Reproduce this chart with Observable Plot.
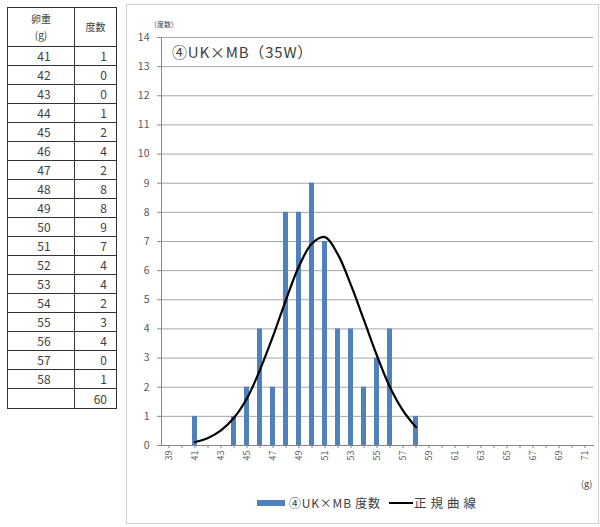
<!DOCTYPE html>
<html><head><meta charset="utf-8">
<script src="https://cdn.jsdelivr.net/npm/d3@7"></script>
<script src="https://cdn.jsdelivr.net/npm/@observablehq/plot@0.6"></script>
<style>
body{margin:0;background:#fff;font-family:"Noto Sans CJK JP","Noto Sans",sans-serif;color:#404040;}
#wrap{position:relative;width:600px;height:527px;overflow:hidden;background:#fff;}
#tbl{position:absolute;left:7px;top:7px;border-collapse:collapse;font-size:12px;color:#404040;}
#tbl td{border:1px solid #333;padding:0;line-height:1;}
#tbl td.w{width:67px;text-align:center;padding-left:6px;box-sizing:border-box;}
#tbl td.c{width:42px;text-align:right;padding-right:9px;box-sizing:border-box;}
#tbl tr.h td{height:39px;font-size:10px;line-height:16px;}
#tbl tr.r td{height:19px;}
#box{position:absolute;left:126px;top:4px;width:473px;height:520px;box-sizing:border-box;border:1.5px solid #d0d0d0;}
#chart{position:absolute;left:127px;top:5px;}
.ov{position:absolute;white-space:nowrap;color:#404040;}
</style></head><body><div id="wrap">
<table id="tbl"></table>
<div id="box"></div>
<div id="chart"></div>
<div class="ov" id="ylab" style="left:150px;top:19px;font-size:7px;line-height:10px;">（度数）</div>
<div class="ov" id="title" style="left:172px;top:42px;font-size:15px;line-height:20px;letter-spacing:0.8px;">④UK×MB（35W）</div>
<div class="ov" id="xunit" style="left:581px;top:478px;font-size:9px;line-height:12px;">(g)</div>
<div class="ov" id="legend" style="left:257px;top:494px;font-size:12px;line-height:18px;display:flex;align-items:center;">
  <span style="display:inline-block;width:28px;height:6px;background:#4F81BD;margin-right:4px;"></span>
  <span id="lg1" style="letter-spacing:0.8px;"></span>
  <span style="display:inline-block;width:24px;height:2px;background:#000;margin-left:8px;margin-right:1px;"></span>
  <span id="lg2" style="letter-spacing:4px;font-size:12.5px;"></span>
</div>
</div>
<script>
// ---- data ----
const weights = [41,42,43,44,45,46,47,48,49,50,51,52,53,54,55,56,57,58];
const counts  = [1,0,0,1,2,4,2,8,8,9,7,4,4,2,3,4,0,1];
const total = 60;
const curveValues = [0.12,0.26,0.52,0.95,1.62,2.6,3.75,5.0,6.15,6.93,7.15,6.55,5.5,4.3,3.08,2.0,1.2,0.63];
const categories = [39,40,41,42,43,44,45,46,47,48,49,50,51,52,53,54,55,56,57,58,59,60,61,62,63,64,65,66,67,68,69,70,71];
const xTickLabels = [39,41,43,45,47,49,51,53,55,57,59,61,63,65,67,69,71];
const yTicks = [0,1,2,3,4,5,6,7,8,9,10,11,12,13,14];
const seriesName = "④UK×MB 度数";
const curveName = "正規曲線";
const headWeight = ["卵重", "(g)"];
const headCount = "度数";

// ---- table ----
const tbl = d3.select("#tbl");
const hr = tbl.append("tr").attr("class","h");
hr.append("td").attr("class","w").style("padding-left","0").html(headWeight[0] + "<br>" + headWeight[1]);
hr.append("td").attr("class","c").style("text-align","center").style("padding-right","0").text(headCount);
weights.forEach((w,i) => {
  const r = tbl.append("tr").attr("class","r");
  r.append("td").attr("class","w").text(w);
  r.append("td").attr("class","c").text(counts[i]);
});
const tr = tbl.append("tr").attr("class","r");
tr.append("td").attr("class","w");
tr.append("td").attr("class","c").style("height","20px").text(total);

d3.select("#lg1").text(seriesName);
d3.select("#lg2").text(curveName);

// ---- chart ----
const data = weights.map((w,i) => ({w, c: counts[i], n: curveValues[i]}));
const chart = Plot.plot({
  width: 471, height: 466,
  marginLeft: 34, marginRight: 5, marginTop: 32, marginBottom: 26,
  style: {fontFamily: '"Noto Sans CJK JP","Noto Sans",sans-serif', fontSize: "10px", color: "#595959", background: "transparent", overflow: "visible"},
  x: {type: "band", domain: categories, paddingInner: 0.6, paddingOuter: 0.3},
  y: {domain: [0, 14]},
  marks: [
    Plot.gridY(yTicks.filter(d => d > 0), {stroke: "#a6a6a6", strokeOpacity: 1, strokeWidth: 1}),
    Plot.barY(data, {x: "w", y: "c", fill: "#4F81BD"}),
    Plot.line(data, {x: "w", y: "n", stroke: "#000", strokeWidth: 2.2, curve: "catmull-rom"}),
    Plot.frame({anchor: "left", stroke: "#868686"}),
    Plot.frame({anchor: "bottom", stroke: "#868686"}),
    Plot.axisY({ticks: yTicks, tickSize: 4, tickPadding: 8, label: null, stroke: "#868686", fontSize: 10.5}),
    Plot.axisX({ticks: categories, tickFormat: d => xTickLabels.includes(d) ? String(d) : "", tickRotate: -90, tickSize: 3, tickPadding: 2, label: null, stroke: "#868686", fontSize: 9})
  ]
});
document.getElementById("chart").appendChild(chart);
</script>
</body></html>
